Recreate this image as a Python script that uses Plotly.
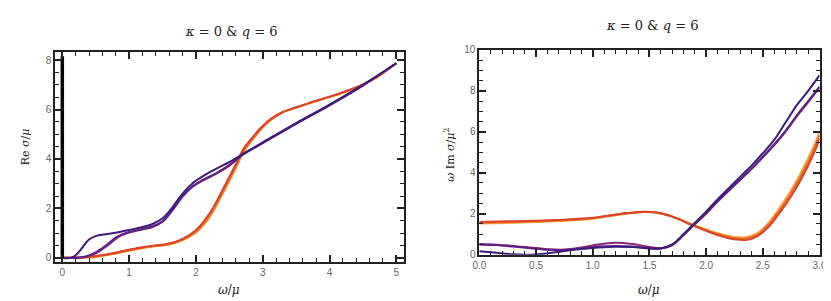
import plotly.graph_objects as go

# ---------------- data: left panel (Re sigma / mu) ----------------
w_re_A = [0, 0.12, 0.2, 0.3, 0.4, 0.5, 0.65, 0.8, 1.0, 1.2, 1.35, 1.5, 1.65, 1.8, 1.95, 2.1, 2.3, 2.5, 2.7, 3.0, 3.5, 4.0, 4.5, 5.0]
re_A   = [0, 0.0, 0.1, 0.42, 0.74, 0.88, 0.96, 1.02, 1.13, 1.25, 1.37, 1.6, 2.05, 2.6, 3.02, 3.3, 3.6, 3.87, 4.2, 4.67, 5.45, 6.2, 7.0, 7.87]
w_re_B = [0, 0.2, 0.3, 0.4, 0.5, 0.6, 0.7, 0.8, 0.9, 1.05, 1.2, 1.35, 1.5, 1.65, 1.8, 1.95, 2.1, 2.3, 2.5, 2.7, 3.0, 3.5, 4.0, 4.5, 5.0]
re_B   = [0, 0.0, 0.03, 0.1, 0.22, 0.4, 0.6, 0.82, 0.96, 1.08, 1.17, 1.27, 1.48, 1.95, 2.5, 2.9, 3.15, 3.42, 3.75, 4.18, 4.65, 5.43, 6.18, 6.98, 7.87]
re_C   = [0, 0.0, 0.02, 0.08, 0.18, 0.35, 0.55, 0.77, 0.93, 1.06, 1.15, 1.25, 1.46, 1.93, 2.48, 2.88, 3.12, 3.4, 3.73, 4.17, 4.64, 5.42, 6.17, 6.97, 7.87]
w_re_O = [0, 0.3, 0.5, 0.75, 1.0, 1.2, 1.4, 1.6, 1.8, 2.0, 2.2, 2.4, 2.6, 2.72, 2.85, 2.95, 3.05, 3.15, 3.3, 3.5, 3.7, 4.0, 4.2, 4.5, 4.7, 5.0]
re_D   = [0.02, 0.03, 0.08, 0.19, 0.33, 0.43, 0.5, 0.58, 0.77, 1.12, 1.78, 2.75, 3.8, 4.44, 4.88, 5.2, 5.46, 5.67, 5.9, 6.09, 6.27, 6.52, 6.7, 7.02, 7.3, 7.87]
re_E   = [0.01, 0.02, 0.06, 0.17, 0.31, 0.41, 0.49, 0.56, 0.74, 1.07, 1.7, 2.66, 3.72, 4.37, 4.83, 5.16, 5.43, 5.65, 5.89, 6.08, 6.26, 6.51, 6.69, 7.01, 7.3, 7.87]
re_F   = [0.0, 0.01, 0.04, 0.15, 0.29, 0.39, 0.47, 0.54, 0.71, 1.02, 1.62, 2.58, 3.64, 4.3, 4.78, 5.12, 5.4, 5.63, 5.88, 6.07, 6.25, 6.5, 6.68, 7.0, 7.29, 7.87]
delta_w = [0, 0]
delta_v = [0, 8.15]

# ---------------- data: right panel (omega Im sigma / mu^2) ----------------
w_im = [0, 0.15, 0.3, 0.45, 0.6, 0.75, 0.9, 1.05, 1.2, 1.35, 1.5, 1.6, 1.7, 1.8, 1.9, 2.0, 2.1, 2.2, 2.3, 2.4, 2.5, 2.6, 2.7, 2.8, 2.9, 3.0]
im_A = [0.17, 0.09, 0.02, 0.0, 0.06, 0.18, 0.28, 0.35, 0.39, 0.37, 0.3, 0.3, 0.5, 1.0, 1.55, 2.1, 2.7, 3.25, 3.8, 4.35, 4.95, 5.6, 6.45, 7.3, 8.0, 8.75]
im_B = [0.5, 0.47, 0.4, 0.32, 0.24, 0.22, 0.3, 0.4, 0.43, 0.4, 0.32, 0.3, 0.48, 0.98, 1.52, 2.05, 2.62, 3.15, 3.68, 4.2, 4.78, 5.38, 6.05, 6.8, 7.5, 8.2]
im_C = [0.52, 0.49, 0.43, 0.35, 0.27, 0.25, 0.35, 0.5, 0.58, 0.52, 0.38, 0.32, 0.46, 0.95, 1.48, 2.0, 2.58, 3.12, 3.65, 4.18, 4.75, 5.35, 6.0, 6.75, 7.45, 8.15]
w_im_O = [0, 0.25, 0.5, 0.75, 1.0, 1.15, 1.3, 1.45, 1.55, 1.65, 1.75, 1.85, 1.95, 2.05, 2.15, 2.25, 2.35, 2.45, 2.55, 2.65, 2.75, 2.85, 2.95, 3.0]
im_D = [1.6, 1.63, 1.66, 1.71, 1.8, 1.92, 2.03, 2.1, 2.07, 1.95, 1.75, 1.5, 1.28, 1.06, 0.88, 0.75, 0.72, 0.9, 1.35, 2.05, 2.85, 3.8, 4.95, 5.65]
im_E = [1.56, 1.59, 1.63, 1.69, 1.78, 1.9, 2.02, 2.09, 2.07, 1.95, 1.76, 1.52, 1.3, 1.1, 0.93, 0.8, 0.79, 0.97, 1.45, 2.18, 3.0, 3.98, 5.12, 5.82]
im_F = [1.52, 1.55, 1.6, 1.66, 1.76, 1.88, 2.0, 2.08, 2.06, 1.95, 1.77, 1.54, 1.33, 1.14, 0.98, 0.86, 0.85, 1.05, 1.55, 2.3, 3.15, 4.15, 5.3, 6.0]

col_A, col_B, col_C = "#3d1b7c", "#5b2089", "#86296f"
col_D, col_E, col_F = "#d9442b", "#ec6a1f", "#f7a13a"

fig = go.Figure()

def add(x, y, color, xa, ya, width=2.0, shape="spline"):
    fig.add_trace(go.Scatter(x=x, y=y, mode="lines", line=dict(color=color, width=width, shape=shape),
                             xaxis=xa, yaxis=ya, showlegend=False, hoverinfo="skip"))

# left
add(w_re_O, re_F, col_F, "x", "y")
add(w_re_O, re_E, col_E, "x", "y")
add(w_re_O, re_D, col_D, "x", "y")
add(w_re_B, re_C, col_C, "x", "y")
add(w_re_B, re_B, col_B, "x", "y")
add(w_re_A, re_A, col_A, "x", "y")
add(delta_w, delta_v, "black", "x", "y", width=3.5, shape="linear")
# right
add(w_im_O, im_F, col_F, "x2", "y2")
add(w_im_O, im_E, col_E, "x2", "y2")
add(w_im_O, im_D, col_D, "x2", "y2")
add(w_im, im_C, col_C, "x2", "y2")
add(w_im, im_B, col_B, "x2", "y2")
add(w_im, im_A, col_A, "x2", "y2")

W, H = 831, 301
frame = "#222222"
tickc = "#222222"
tfont = dict(family="Liberation Sans", size=10, color="#666666")

def ax(domain, rng, dtick, minor, fmt=None, anchor=None):
    d = dict(domain=domain, range=rng, dtick=dtick, tick0=0, showgrid=False, zeroline=False,
             showline=True, linecolor=frame, linewidth=1.8, mirror="allticks",
             ticks="inside", ticklen=7, tickwidth=1.5, tickcolor=tickc, tickfont=tfont,
             minor=dict(dtick=minor, ticks="inside", ticklen=4, tickwidth=1.2, tickcolor=tickc))
    if fmt:
        d["tickformat"] = fmt
    if anchor:
        d["anchor"] = anchor
    return d

fig.update_layout(
    width=W, height=H, margin=dict(l=0, r=0, t=0, b=0),
    paper_bgcolor="white", plot_bgcolor="white",
    xaxis=ax([41 / W, 396 / W], [-0.105, 5.12], 1, 0.2, anchor="y"),
    yaxis=ax([1 - 258 / H, 1 - 40 / H], [-0.155, 8.31], 2, 0.5, anchor="x"),
    xaxis2=ax([472.3 / W, 818.3 / W], [0, 3], 0.5, 0.1, fmt=".1f", anchor="y2"),
    yaxis2=ax([1 - 250.7 / H, 1 - 37.3 / H], [0, 10], 2, 0.5, anchor="x2"),
)

serif = "DejaVu Serif"
ann = [
    dict(text="<i>κ</i> = 0 &amp; <i>q</i> = 6", x=220 / W, y=1 - 18 / H, size=13),
    dict(text="<i>κ</i> = 0 &amp; <i>q</i> = 6", x=648 / W, y=1 - 12 / H, size=13),
    dict(text="<i>ω</i>/<i>μ</i>", x=218 / W, y=1 - 287 / H, size=12),
    dict(text="<i>ω</i>/<i>μ</i>", x=645 / W, y=1 - 287 / H, size=12),
    dict(text="Re <i>σ</i>/<i>μ</i>", x=11 / W, y=1 - 138 / H, size=11, angle=-90),
    dict(text="<i>ω</i> Im <i>σ</i>/<i>μ</i><sup>2</sup>", x=442 / W, y=1 - 147 / H, size=11, angle=-90),
]
for a in ann:
    fig.add_annotation(text=a["text"], x=a["x"], y=a["y"], xref="paper", yref="paper",
                       xanchor="center", yanchor="middle", showarrow=False,
                       textangle=a.get("angle", 0), font=dict(family=serif, size=a["size"], color="#222222"))

fig.write_html("out.html")
